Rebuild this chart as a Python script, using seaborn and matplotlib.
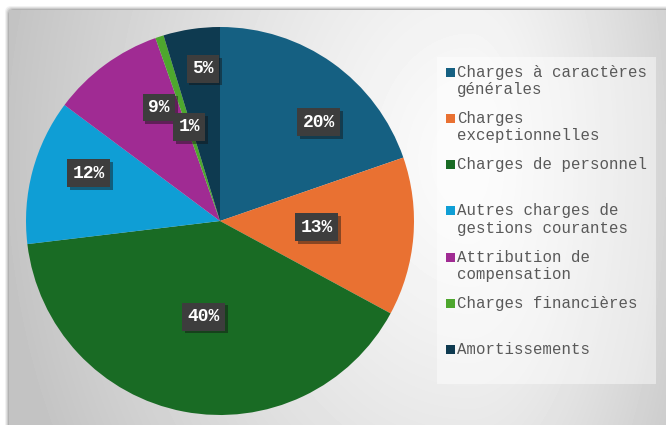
import textwrap
import numpy as np
import matplotlib
matplotlib.use("Agg")
import matplotlib.pyplot as plt
import matplotlib.patheffects as pe
from matplotlib.patches import Rectangle, FancyBboxPatch
import seaborn as sns

# data
categories = ["Charges à caractères générales", "Charges exceptionnelles",
              "Charges de personnel", "Autres charges de gestions courantes",
              "Attribution de compensation", "Charges financières",
              "Amortissements"]
shares = [19.7, 13.2, 40.2, 12.1, 9.4, 0.7, 4.7]
colors = ["#156082", "#E97132", "#196B24", "#0F9ED5", "#A02B93", "#4EA72E", "#0E3A50"]

# label placement (fraction of radius, angle nudge in degrees)
label_r = [0.72, 0.50, 0.50, 0.72, 0.665, 0.51, 0.79]
label_nudge = [9.5, -1, -1, 5, 8, 0, 2]

sns.set_style("white")
palette = sns.color_palette(colors)

W, H = 666, 425
fig = plt.figure(figsize=(W / 100, H / 100), dpi=100)
fig.patch.set_facecolor("white")


def px_axes(x0, y0, w, h):
    """axes from pixel box (top-left origin)"""
    return fig.add_axes([x0 / W, (H - y0 - h) / H, w / W, h / H])


# shadow + gradient background of the chart area
sh = px_axes(0, 0, W, H)
sh.set_axis_off()
sh.set_xlim(0, W)
sh.set_ylim(H, 0)
for k, a in enumerate([0.05, 0.07, 0.09, 0.12]):
    off = 4 - k
    sh.add_patch(FancyBboxPatch((9 - off, 10 - off), W, H, boxstyle="round,pad=0,rounding_size=6",
                                facecolor="black", edgecolor="none", alpha=a))

bg = px_axes(9, 10, W - 9, H - 10)
bg.set_axis_off()
bw, bh = W - 9, H - 10
xx, yy = np.meshgrid(np.arange(bw), np.arange(bh))
cx, cy = 460, 150
dx = np.where(xx < cx, (xx - cx) / 470, (xx - cx) / 260)
dy = (yy - cy) / 620
d = np.clip(np.sqrt(dx ** 2 + dy ** 2), 0, 1)
v = 0.985 - 0.22 * d ** 1.3
bg.imshow(v, cmap="gray", vmin=0, vmax=1, extent=(0, bw, bh, 0), aspect="auto",
          interpolation="bilinear")
bg.set_xlim(0, bw)
bg.set_ylim(bh, 0)

# pie
R = 194
ax = px_axes(220 - R, 221 - R, 2 * R, 2 * R)
ax.pie(shares, colors=palette, startangle=90, counterclock=False, radius=1,
       wedgeprops=dict(linewidth=0))
ax.set_xlim(-1, 1)
ax.set_ylim(-1, 1)
ax.set_axis_off()

total = sum(shares)
cum = np.cumsum(shares)
for i, s in enumerate(shares):
    mid = 360 * (cum[i] - s / 2) / total + label_nudge[i]
    th = np.deg2rad(mid)
    x, y = label_r[i] * np.sin(th), label_r[i] * np.cos(th)
    t = ax.text(x, y, f"{round(s / total * 100)}%", ha="center", va="center",
                color="white", fontsize=13, fontweight="bold", family="Liberation Mono",
                bbox=dict(boxstyle="square,pad=0.3", facecolor="#3d3d3d", edgecolor="none"))
    t.get_bbox_patch().set_path_effects([pe.SimplePatchShadow(offset=(2, -2), alpha=0.45),
                                         pe.Normal()])

# legend
lx, ly, lw, lh = 437, 57, 219, 327
lax = px_axes(lx, ly, lw, lh)
lax.set_xlim(0, lw)
lax.set_ylim(lh, 0)
lax.set_axis_off()
lax.add_patch(Rectangle((0, 0), lw, lh, facecolor="white", alpha=0.45, edgecolor="none"))
step = 46.3
for i, name in enumerate(categories):
    y0 = 15 + i * step
    lax.add_patch(Rectangle((8.5, y0 - 4.5), 9, 9, facecolor=palette[i], edgecolor="none"))
    for j, line in enumerate(textwrap.wrap(name, 20)):
        lax.text(20, y0 + j * 17.5, line, ha="left", va="center", color="#595959",
                 fontsize=11.3, family="Liberation Mono")

fig.savefig("out.png", dpi=100)
